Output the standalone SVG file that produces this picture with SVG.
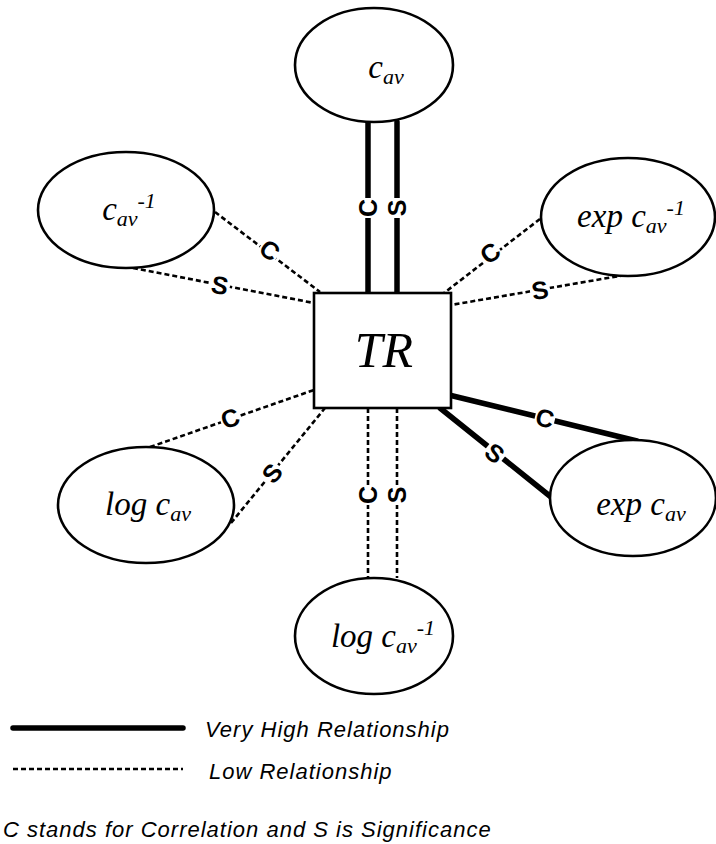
<svg xmlns="http://www.w3.org/2000/svg" width="716" height="844" viewBox="0 0 716 844">
  <style>
    .node { fill: #fff; stroke: #000; stroke-width: 2.6; }
    .math { font-family: "Liberation Serif", "Times New Roman", serif; font-style: italic; fill: #000; text-anchor: middle; }
    .strong { fill: none; stroke: #000; stroke-width: 5.5; stroke-linecap: round; }
    .weak { fill: none; stroke: #000; stroke-width: 2.6; stroke-dasharray: 5 3; }
    .gap { fill: #fff; }
    .lbl { font-family: "Liberation Sans", Arial, sans-serif; font-weight: bold; font-size: 25px; fill: #000; text-anchor: middle; }
    .legend { font-family: "Liberation Sans", Arial, sans-serif; font-style: italic; font-size: 22px; letter-spacing: 1px; fill: #000; }
  </style>
  <defs>
    <!-- white patch that opens the line under a label -->
    <rect id="gap" class="gap" x="-10" y="-10" width="20" height="20"/>
  </defs>
  <rect width="716" height="844" fill="#fff"/>

  <!-- connectors -->
  <g id="connectors">
    <!-- top: c_av (strong) -->
    <line class="strong" x1="368" y1="122" x2="368" y2="293"/>
    <line class="strong" x1="397" y1="122" x2="397" y2="293"/>
    <!-- right-bottom: exp c_av (strong) -->
    <line class="strong" x1="449" y1="395" x2="637" y2="441"/>
    <line class="strong" x1="440" y1="408" x2="551" y2="497"/>
    <!-- left-top: c_av^-1 (weak) -->
    <line class="weak" x1="215" y1="212" x2="320" y2="292"/>
    <line class="weak" x1="133" y1="268" x2="314" y2="303"/>
    <!-- right-top: exp c_av^-1 (weak) -->
    <line class="weak" x1="540" y1="219" x2="444" y2="293"/>
    <line class="weak" x1="625" y1="275" x2="451" y2="305"/>
    <!-- left-bottom: log c_av (weak) -->
    <line class="weak" x1="150" y1="447" x2="314" y2="390"/>
    <line class="weak" x1="231" y1="523" x2="325" y2="408"/>
    <!-- bottom: log c_av^-1 (weak) -->
    <line class="weak" x1="368" y1="408" x2="368" y2="578"/>
    <line class="weak" x1="397" y1="408" x2="397" y2="578"/>

    <!-- C / S labels along the lines -->
    <g transform="translate(368,208) rotate(-90)"><use href="#gap"/><text class="lbl" y="9">C</text></g>
    <g transform="translate(397,208) rotate(-90)"><use href="#gap"/><text class="lbl" y="9">S</text></g>
    <g transform="translate(545,418) rotate(14)"><use href="#gap"/><text class="lbl" y="9">C</text></g>
    <g transform="translate(495,453) rotate(39)"><use href="#gap"/><text class="lbl" y="9">S</text></g>
    <g transform="translate(270,250) rotate(37)"><use href="#gap"/><text class="lbl" y="9">C</text></g>
    <g transform="translate(220,285) rotate(11)"><use href="#gap"/><text class="lbl" y="9">S</text></g>
    <g transform="translate(490,253) rotate(-37)"><use href="#gap"/><text class="lbl" y="9">C</text></g>
    <g transform="translate(540,290) rotate(-10)"><use href="#gap"/><text class="lbl" y="9">S</text></g>
    <g transform="translate(230,418) rotate(-19)"><use href="#gap"/><text class="lbl" y="9">C</text></g>
    <g transform="translate(272,473) rotate(-50)"><use href="#gap"/><text class="lbl" y="9">S</text></g>
    <g transform="translate(368,495) rotate(-90)"><use href="#gap"/><text class="lbl" y="9">C</text></g>
    <g transform="translate(397,495) rotate(-90)"><use href="#gap"/><text class="lbl" y="9">S</text></g>
  </g>

  <!-- central node -->
  <g id="tr">
    <rect class="node" x="314" y="293" width="137" height="115"/>
    <text class="math" x="384" y="367" font-size="50">TR</text>
  </g>

  <g id="cav">
    <ellipse class="node" cx="374" cy="65" rx="79" ry="57"/>
    <text class="math" x="386" y="78" font-size="33">c<tspan font-size="22" dy="6">av</tspan></text>
  </g>

  <g id="cav-inv">
    <ellipse class="node" cx="126" cy="210" rx="88" ry="58"/>
    <text class="math" x="129" y="220" font-size="33">c<tspan font-size="22" dy="6">av</tspan><tspan font-size="22" dy="-18">-1</tspan></text>
  </g>

  <g id="exp-cav-inv">
    <ellipse class="node" cx="628" cy="217" rx="87" ry="59"/>
    <text class="math" x="631" y="227" font-size="33">exp c<tspan font-size="22" dy="6">av</tspan><tspan font-size="22" dy="-18">-1</tspan></text>
  </g>

  <g id="exp-cav">
    <ellipse class="node" cx="633" cy="498" rx="83" ry="58"/>
    <text class="math" x="641" y="515" font-size="33">exp c<tspan font-size="22" dy="6">av</tspan></text>
  </g>

  <g id="log-cav">
    <ellipse class="node" cx="146" cy="505" rx="88" ry="58"/>
    <text class="math" x="148" y="515" font-size="33">log c<tspan font-size="22" dy="6">av</tspan></text>
  </g>

  <g id="log-cav-inv">
    <ellipse class="node" cx="374" cy="636" rx="79" ry="58"/>
    <text class="math" x="383" y="647" font-size="33">log c<tspan font-size="22" dy="6">av</tspan><tspan font-size="22" dy="-18">-1</tspan></text>
  </g>

  <!-- legend -->
  <g id="legend">
    <line class="strong" x1="13" y1="728" x2="183" y2="728"/>
    <text class="legend" x="205" y="737">Very High Relationship</text>
    <line class="weak" x1="13" y1="769" x2="183" y2="769"/>
    <text class="legend" x="209" y="779">Low Relationship</text>
    <text class="legend" x="3" y="837">C stands for Correlation and S is Significance</text>
  </g>
</svg>
